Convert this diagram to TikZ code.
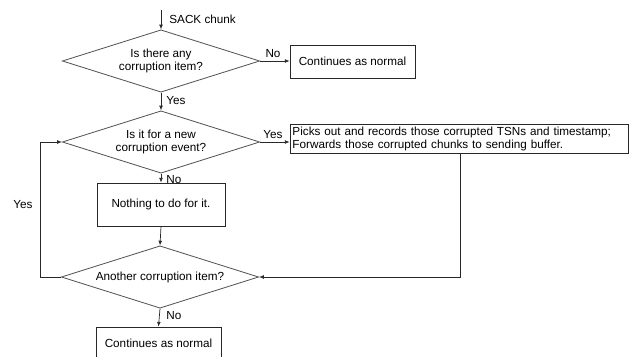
\documentclass[tikz,border=0pt]{standalone}
\usepackage{fontspec}
\setmainfont{Liberation Sans}
\definecolor{line1}{RGB}{40, 40, 40}
\usepackage{tikz}
\usetikzlibrary{shapes.geometric, arrows.meta, positioning, calc}

\begin{document}
\begin{tikzpicture}[x=0.03cm, y=-0.03cm,
    every node/.style={font=\fontsize{10}{11.5}\selectfont},
    decision/.style={diamond, draw=line1!80, line width=0.7pt, aspect=3, inner sep=0pt,
      minimum width=5.92cm, minimum height=1.87cm, align=center},
    stepbox/.style={rectangle, draw=line1, line width=0.6pt, inner sep=2pt},
    flow/.style={draw=line1, line width=0.6pt, -{Latex[length=4pt, width=3.2pt]}},
    lbl/.style={inner sep=1pt}]
  \useasboundingbox (0,0) rectangle (634,356);
  \clip (0,0) rectangle (634,356);

  % decisions
  \node[decision] (anyitem) at (161,61) {Is there any\\corruption item?};
  \node[decision] (newevent) at (161,142) {Is it for a new\\corruption event?};
  \node[decision] (another) at (160,277) {Another corruption item?};

  % boxes
  \node[stepbox, minimum width=3.75cm, minimum height=0.99cm] (normal1) at (352.5,61.5) {Continues as normal};
  \node[stepbox, minimum width=10.14cm, minimum height=0.84cm, inner xsep=2pt,
    text width=9.99cm, align=left] (record) at (459,139)
    {Picks out and records those corrupted TSNs and timestamp;\\Forwards those corrupted chunks to sending buffer.};
  \node[stepbox, minimum width=3.84cm, minimum height=1.29cm] (nothing) at (161,204.5) {Nothing to do for it.};
  \node[stepbox, minimum width=3.75cm, minimum height=0.99cm] (normal2) at (158.5,343.5) {Continues as normal};

  % connectors
  \coordinate (start) at (161,10);
  \draw[flow] (start) -- (anyitem.north);
  \node[lbl, anchor=west] (sack) at (168,19) {SACK chunk};

  \draw[flow] (anyitem.east) -- (normal1.west |- anyitem.east);
  \node[lbl, anchor=south] (no1) at (273,59) {No};

  \draw[flow] (anyitem.south) -- (newevent.north);
  \node[lbl, anchor=west] (yes1) at (165,101) {Yes};

  \draw[flow] (newevent.east) -- (record.west |- newevent.east);
  \node[lbl, anchor=south] (yes2) at (273,140) {Yes};

  \draw[flow] (newevent.south) -- (nothing.north);
  \node[lbl, anchor=west] (no2) at (165,180) {No};

  \draw[flow] (nothing.south) -- (another.north);

  \coordinate (loopx) at (40,0);
  \draw[flow] (another.west) -- (another.west -| loopx) -- (newevent.west -| loopx) -- (newevent.west);
  \node[lbl] (yes3) at (23,205) {Yes};

  \coordinate (backx) at (460,0);
  \draw[flow] (record.south -| backx) -- (another.east -| backx) -- (another.east);

  \draw[flow] (another.south) -- (normal2.north);
  \node[lbl, anchor=west] (no3) at (165,316) {No};
\end{tikzpicture}
\end{document}
